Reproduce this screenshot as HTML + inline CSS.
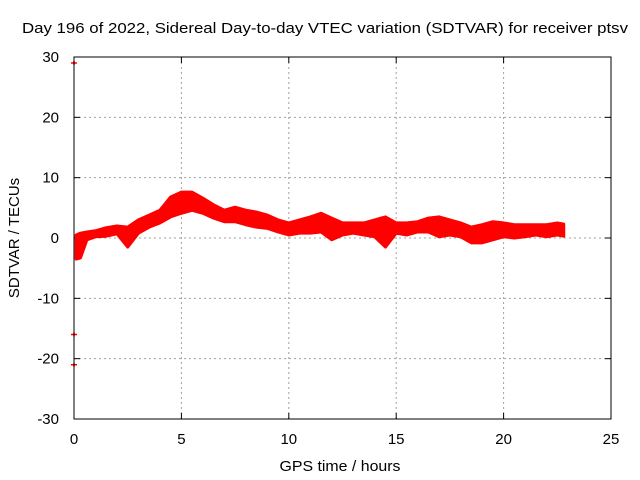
<!DOCTYPE html>
<html><head><meta charset="utf-8"><style>
body{margin:0;background:#fff}
svg{display:block;font-family:"Liberation Sans",sans-serif}
</style></head><body>
<svg id="chart" width="640" height="480">
<text x="325" y="33" text-anchor="middle" font-size="15" textLength="606" lengthAdjust="spacingAndGlyphs" fill="#000">Day 196 of 2022, Sidereal Day-to-day VTEC variation (SDTVAR) for receiver ptsv</text>
<text x="340" y="471" text-anchor="middle" font-size="15" textLength="121" lengthAdjust="spacingAndGlyphs">GPS time / hours</text>
<text transform="translate(19,238) rotate(-90)" text-anchor="middle" font-size="15">SDTVAR / TECUs</text>
<g id="grid"></g><g id="ticks"></g><g id="marks"></g>
<rect x="74" y="57" width="537" height="362" fill="none" stroke="#000" stroke-width="1"/>
</svg>
<script>
const xTicks=[0,5,10,15,20,25];
const yTicks=[-30,-20,-10,0,10,20,30];
const times=[0.1,0.3,0.6,1,1.5,2,2.5,3,3.5,4,4.5,5,5.5,6,6.5,7,7.5,8,8.5,9,9.5,10,10.5,11,11.5,12,12.5,13,13.5,14,14.5,15,15.5,16,16.5,17,17.5,18,18.5,19,19.5,20,20.5,21,21.5,22,22.5,22.8];
const upper=[0.5,0.8,1,1.2,1.7,2,1.8,3,3.8,4.6,6.8,7.6,7.6,6.6,5.5,4.6,5.1,4.6,4.3,3.8,3,2.5,3,3.5,4.1,3.3,2.5,2.5,2.5,3,3.5,2.5,2.5,2.7,3.3,3.5,3,2.5,1.8,2.2,2.7,2.5,2.2,2.2,2.2,2.2,2.5,2.3];
const lower=[-3.5,-3.3,-0.3,0.2,0.3,0.7,-1.5,0.8,1.8,2.5,3.5,4.1,4.6,4.1,3.3,2.7,2.7,2.2,1.8,1.6,1,0.5,0.8,0.8,1,-0.3,0.5,0.8,0.5,0.2,-1.5,0.8,0.5,1,1,0.2,0.5,0.2,-0.8,-0.8,-0.3,0.2,0,0.2,0.5,0.2,0.5,0.3];
const outlierTimes=[0,0,0];
const outlierValues=[29,-16,-21];
const X0=74,X1=611,Y0=419,Y1=57;
const xs=t=>X0+(t-0)/(25-0)*(X1-X0);
const ys=v=>Y0-(v+30)/60*(Y0-Y1);
const NS="http://www.w3.org/2000/svg";
function mk(tag,attrs,parent){const e=document.createElementNS(NS,tag);for(const k in attrs)e.setAttribute(k,attrs[k]);parent.appendChild(e);return e;}
const grid=document.getElementById('grid'),ticks=document.getElementById('ticks'),marks=document.getElementById('marks');
xTicks.forEach(t=>{const x=xs(t);
 if(t>0&&t<25){const g=mk('line',{x1:x,y1:Y0,x2:x,y2:Y1,stroke:'#a0a0a0','stroke-dasharray':'2,3'},grid);
 
 }
 const tk=mk('text',{x:x,y:Y0+25,'text-anchor':'middle','font-size':'15'},ticks);tk.textContent=t;
 
 
 mk('line',{x1:x,y1:Y0,x2:x,y2:Y0-6,stroke:'#000'},ticks);mk('line',{x1:x,y1:Y1,x2:x,y2:Y1+6,stroke:'#000'},ticks);
});
yTicks.forEach(v=>{const y=ys(v);
 if(v>-30&&v<30){const g=mk('line',{x1:X0,y1:y,x2:X1,y2:y,stroke:'#a0a0a0','stroke-dasharray':'2,3'},grid);
 
 }
 const tk=mk('text',{x:X0-15,y:y+5,'text-anchor':'end','font-size':'15'},ticks);tk.textContent=v;
 
 
 mk('line',{x1:X0,y1:y,x2:X0+6,y2:y,stroke:'#000'},ticks);mk('line',{x1:X1,y1:y,x2:X1-6,y2:y,stroke:'#000'},ticks);
});
let pts=times.map((t,i)=>xs(t)+','+ys(upper[i]));
for(let i=times.length-1;i>=0;i--)pts.push(xs(times[i])+','+ys(lower[i]));
const band=mk('polygon',{points:pts.join(' '),fill:'#ff0000',stroke:'#ff0000','stroke-width':'3','stroke-linejoin':'round'},marks);


outlierTimes.forEach((t,i)=>{const x=xs(t),y=ys(outlierValues[i]);
 const o=mk('path',{d:`M${x-3},${y}H${x+3}M${x},${y-2}V${y+2}`,stroke:'#ff0000','stroke-width':'1.5'},marks);
 
 
});
</script>
</body></html>
